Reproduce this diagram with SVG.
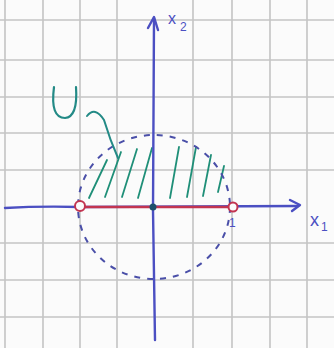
<svg xmlns="http://www.w3.org/2000/svg" width="334" height="348" viewBox="0 0 334 348">
<style>
.grid line{stroke:#c4c4c4;stroke-width:1.6}
.ax{stroke:#4b4fc2;stroke-width:2.4;fill:none;stroke-linecap:round;stroke-linejoin:round}
.circ{stroke:#4a4fa8;stroke-width:2;fill:none;stroke-dasharray:6 7}
.hatch line{stroke:#1f8f78;stroke-width:1.8;stroke-linecap:round}
.lbl{font-family:"Liberation Sans",sans-serif;fill:#4b4fc2}
</style>
<rect width="334" height="348" fill="#fbfbfb"/>
<g class="grid">
<line x1="5" y1="0" x2="5" y2="348"/><line x1="43" y1="0" x2="43" y2="348"/><line x1="80" y1="0" x2="80" y2="348"/><line x1="117" y1="0" x2="117" y2="348"/><line x1="193" y1="0" x2="193" y2="348"/><line x1="232" y1="0" x2="232" y2="348"/><line x1="270" y1="0" x2="270" y2="348"/><line x1="307" y1="0" x2="307" y2="348"/>
<line x1="0" y1="20" x2="334" y2="20"/><line x1="0" y1="60" x2="334" y2="60"/><line x1="0" y1="97" x2="334" y2="97"/><line x1="0" y1="133" x2="334" y2="133"/><line x1="0" y1="170" x2="334" y2="170"/><line x1="0" y1="243" x2="334" y2="243"/><line x1="0" y1="280" x2="334" y2="280"/><line x1="0" y1="317" x2="334" y2="317"/>
</g>
<g id="hatching" class="hatch">
<line x1="89" y1="198" x2="107" y2="160"/>
<line x1="105" y1="197" x2="121" y2="152"/>
<line x1="122" y1="197" x2="137" y2="149"/>
<line x1="138" y1="198" x2="152" y2="148"/>
<line x1="170" y1="198" x2="179" y2="147"/>
<line x1="187" y1="197" x2="196" y2="147"/>
<line x1="203" y1="196" x2="211" y2="155"/>
<line x1="218" y1="192" x2="224" y2="166"/>
</g>
<g id="circle"><ellipse class="circ" cx="154" cy="207" rx="76" ry="72"/></g>
<g id="axes">
<path class="ax" d="M5 208 Q40 206 80 207 L298 206"/>
<path class="ax" d="M290 200 L300 205 L292 211"/>
<path class="ax" d="M155 340 L153 210 L154 18"/>
<path class="ax" d="M148 28 L154 17 L158 30"/>
</g>
<g id="segment">
<line x1="84" y1="207" x2="229" y2="207" stroke="#c23450" stroke-width="2.4"/>
<circle cx="80" cy="206" r="5" fill="#fbfbfb" stroke="#c23450" stroke-width="2"/>
<circle cx="233" cy="207" r="4.5" fill="#fbfbfb" stroke="#c23450" stroke-width="2"/>
<circle cx="153" cy="207" r="3.5" fill="#1d4f6a"/>
</g>
<g id="U-label">
<path d="M54 87 Q50 118 65 118 Q78 117 76 87" fill="none" stroke="#238a86" stroke-width="2.2" stroke-linecap="round"/>
<path d="M87 116 Q95 106 104 120 Q110 140 118 158" fill="none" stroke="#238a86" stroke-width="2" stroke-linecap="round"/>
</g>
<text class="lbl" x="168" y="24" font-size="16">x</text>
<text class="lbl" x="180" y="31" font-size="12">2</text>
<text class="lbl" x="310" y="226" font-size="18">x</text>
<text class="lbl" x="321" y="231" font-size="12">1</text>
<text class="lbl" x="229" y="227" font-size="12">1</text>
</svg>
